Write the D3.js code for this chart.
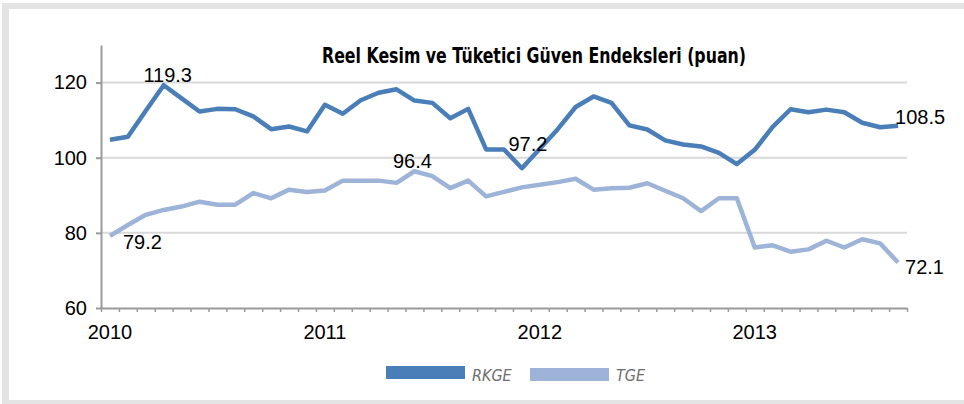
<!DOCTYPE html>
<html>
<head>
<meta charset="utf-8">
<script src="https://cdn.jsdelivr.net/npm/d3@7"></script>
<style>
  body { margin: 0; background: #fff; }
  text { font-family: Arial, "Liberation Sans", sans-serif; }
</style>
</head>
<body>
<script>
// monthly categories, Jan 2010 - Sep 2013
var months = [];
[2010, 2011, 2012, 2013].forEach(function(y) {
  for (var m = 1; m <= 12; m++) months.push(y + "-" + m);
});
months = months.slice(0, 45);

var yearLabels = ["2010", "2011", "2012", "2013"];
var yTicks = [60, 80, 100, 120];

// Reel Kesim Güven Endeksi
var rkge = [104.8, 105.6, 112.5, 119.3, 115.8, 112.3, 113.0, 112.9, 111.0, 107.6, 108.3, 107.0,
            114.1, 111.7, 115.3, 117.3, 118.2, 115.2, 114.6, 110.5, 113.0, 102.2, 102.2, 97.2,
            102.4, 107.6, 113.5, 116.3, 114.6, 108.6, 107.5, 104.6, 103.5, 103.0, 101.3, 98.3,
            102.1, 108.2, 112.9, 112.1, 112.8, 112.1, 109.3, 108.1, 108.5];
// Tüketici Güven Endeksi
var tge = [79.2, 82.1, 84.8, 86.1, 87.0, 88.3, 87.5, 87.5, 90.6, 89.2, 91.5, 90.9,
           91.3, 93.9, 93.9, 93.9, 93.3, 96.4, 95.1, 91.9, 93.9, 89.7, 90.9, 92.1,
           92.8, 93.5, 94.4, 91.5, 91.9, 92.0, 93.2, 91.2, 89.2, 85.8, 89.2, 89.2,
           76.1, 76.7, 75.0, 75.6, 77.9, 76.1, 78.3, 77.2, 72.1];

// labelled points: [series, index, dx, dy, anchor]
var notes = [
  [rkge, 3, 4, -3, "middle"],
  [rkge, 23, 6, -17, "middle"],
  [rkge, 44, -3, -2, "start"],
  [tge, 0, 13, 13, "start"],
  [tge, 17, -2, -3, "middle"],
  [tge, 44, 7, 11, "start"]
];

var width = 964, height = 404;
var plot = {left: 101, right: 907, top: 45, bottom: 308};

var svg = d3.select("body").append("svg")
    .attr("width", width)
    .attr("height", height);

// frame
svg.append("rect").attr("x", 0).attr("y", 0).attr("width", width).attr("height", height).attr("fill", "#fff");
svg.append("rect").attr("x", 2).attr("y", 3).attr("width", 7).attr("height", 401).attr("fill", "#e4e4e4");
svg.append("rect").attr("x", 2).attr("y", 3).attr("width", 962).attr("height", 6).attr("fill", "#e4e4e4");
svg.append("rect").attr("x", 2).attr("y", 400).attr("width", 962).attr("height", 4).attr("fill", "#e4e4e4");

var x = d3.scaleBand().domain(months).range([plot.left, plot.right]).padding(0);
var xc = function(i) { return x(months[i]) + x.bandwidth() / 2; };
var y = d3.scaleLinear().domain([60, 130]).range([plot.bottom, plot.top]);

// gridlines
svg.append("g").selectAll("line")
    .data(yTicks.slice(1))
  .enter().append("line")
    .attr("x1", plot.left).attr("x2", plot.right)
    .attr("y1", function(d) { return y(d); })
    .attr("y2", function(d) { return y(d); })
    .attr("stroke", "#d9d9d9").attr("stroke-width", 2);

// y axis
var yAxis = svg.append("g")
    .attr("transform", "translate(" + plot.left + ",0)")
    .call(d3.axisLeft(y).tickValues(yTicks).tickSize(5).tickSizeOuter(0).tickPadding(9));
yAxis.select(".domain").attr("stroke", "#9a9a9a").attr("stroke-width", 2);
yAxis.selectAll(".tick line").attr("stroke", "#9a9a9a").attr("stroke-width", 2);
yAxis.selectAll("text").attr("font-size", 20).attr("fill", "#000")
    .style("font-family", "Arial, 'Liberation Sans', sans-serif");

// x axis: ticks at month boundaries
var xb = d3.scaleLinear().domain([0, months.length]).range([plot.left, plot.right]);
var xAxis = svg.append("g")
    .attr("transform", "translate(0," + plot.bottom + ")")
    .call(d3.axisBottom(xb).tickValues(d3.range(0, months.length + 1)).tickSize(4)
      .tickSizeOuter(0).tickFormat(""));
xAxis.select(".domain").attr("stroke", "#9a9a9a").attr("stroke-width", 2);
xAxis.selectAll(".tick line").attr("stroke", "#9a9a9a").attr("stroke-width", 1.5);

svg.append("g").selectAll("text")
    .data(yearLabels)
  .enter().append("text")
    .attr("x", function(d, i) { return xc(i * 12); })
    .attr("y", 339)
    .attr("text-anchor", "middle")
    .attr("font-size", 20)
    .text(function(d) { return d; });

// lines
var line = d3.line()
    .x(function(d, i) { return xc(i); })
    .y(function(d) { return y(d); });

svg.append("path").datum(tge)
    .attr("d", line).attr("fill", "none")
    .attr("stroke", "#9db4d8").attr("stroke-width", 4.5).attr("stroke-linejoin", "round");
svg.append("path").datum(rkge)
    .attr("d", line).attr("fill", "none")
    .attr("stroke", "#4a7eb8").attr("stroke-width", 4.5).attr("stroke-linejoin", "round");

// value labels
svg.append("g").selectAll("text")
    .data(notes)
  .enter().append("text")
    .attr("x", function(d) { return xc(d[1]) + d[2]; })
    .attr("y", function(d) { return y(d[0][d[1]]) + d[3]; })
    .attr("text-anchor", function(d) { return d[4]; })
    .attr("font-size", 20)
    .text(function(d) { return d3.format(".1f")(d[0][d[1]]); });

// title
svg.append("text")
    .attr("x", 534).attr("y", 63)
    .attr("text-anchor", "middle")
    .attr("font-size", 21).attr("font-weight", "bold")
    .attr("textLength", 424).attr("lengthAdjust", "spacingAndGlyphs")
    .style("font-family", "'Liberation Sans Narrow', 'DejaVu Sans Condensed', Arial, sans-serif")
    .text("Reel Kesim ve Tüketici Güven Endeksleri (puan)");

// legend
var legend = [["RKGE", "#4a7eb8", 386, 366], ["TGE", "#9db4d8", 530, 368]];
var lg = svg.append("g").selectAll("g").data(legend).enter().append("g");
lg.append("rect")
    .attr("x", function(d) { return d[2]; })
    .attr("y", function(d) { return d[3]; })
    .attr("width", 79).attr("height", 13)
    .attr("fill", function(d) { return d[1]; });
lg.append("text")
    .attr("x", function(d) { return d[2] + 86; })
    .attr("y", 381)
    .attr("font-size", 16).attr("font-style", "italic").attr("fill", "#6e6e6e")
    .style("font-family", "'Liberation Sans Narrow', 'DejaVu Sans Condensed', Arial, sans-serif")
    .text(function(d) { return d[0]; });
</script>
</body>
</html>
